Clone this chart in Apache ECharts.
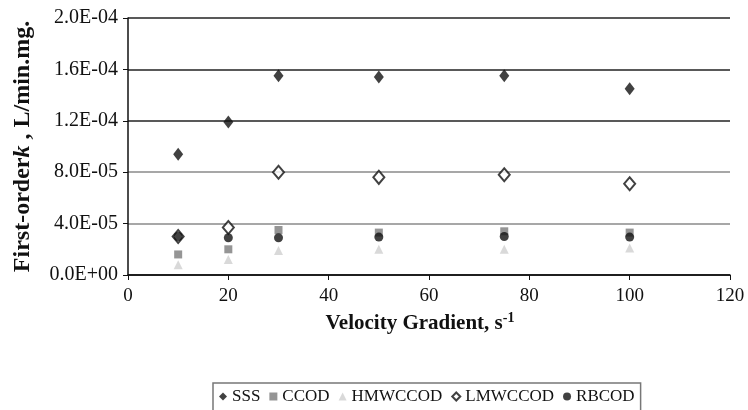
<!DOCTYPE html>
<html>
<head>
<meta charset="utf-8">
<script src="https://cdn.jsdelivr.net/npm/echarts@6/dist/echarts.min.js"></script>
<style>
  html, body { margin: 0; padding: 0; background: #fff; }
  #chart { width: 748px; height: 410px; }
</style>
</head>
<body>
<div id="chart"></div>
<script>
// Velocity gradient (s^-1) at which each rate constant was measured
const velocityGradient = [10, 20, 30, 50, 75, 100];

// First-order rate constants k (L/min.mg) per COD fraction
const sss     = [9.4e-5, 1.19e-4, 1.55e-4, 1.54e-4, 1.55e-4, 1.45e-4];
const ccod    = [1.6e-5, 2.0e-5, 3.5e-5, 3.3e-5, 3.4e-5, 3.3e-5];
const hmwccod = [0.8e-5, 1.2e-5, 1.9e-5, 2.0e-5, 2.0e-5, 2.1e-5];
const lmwccod = [3.0e-5, 3.7e-5, 8.0e-5, 7.6e-5, 7.8e-5, 7.1e-5];
const rbcod   = [3.0e-5, 2.9e-5, 2.9e-5, 2.95e-5, 3.0e-5, 2.95e-5];

const seriesNames = ['SSS', 'CCOD', 'HMWCCOD', 'LMWCCOD', 'RBCOD'];

// Axis tick labels
const yTickLabels = ['0.0E+00', '4.0E-05', '8.0E-05', '1.2E-04', '1.6E-04', '2.0E-04'];
const xTickLabels = ['0', '20', '40', '60', '80', '100', '120'];

const serif = '"Liberation Serif", "Times New Roman", serif';

function pairs(values) {
  return velocityGradient.map((x, i) => [x, values[i]]);
}

const chart = echarts.init(document.getElementById('chart'), null, { renderer: 'canvas' });

chart.setOption({
  animation: false,
  backgroundColor: '#ffffff',
  grid: { left: 128, right: 18, top: 18, bottom: 135, containLabel: false, outerBoundsMode: 'none' },
  xAxis: {
    type: 'value',
    min: 0,
    max: 120,
    interval: 20,
    name: '{b|Velocity Gradient, s}{sup|-1}',
    nameLocation: 'middle',
    nameGap: 34,
    nameTextStyle: {
      padding: [0, 18, 0, 0],
      rich: {
        b: { fontFamily: serif, fontWeight: 'bold', fontSize: 21, color: '#111' },
        sup: { fontFamily: serif, fontWeight: 'bold', fontSize: 14, color: '#111', padding: [0, 0, 11, 0] }
      }
    },
    axisLine: { lineStyle: { color: '#111', width: 1.5 } },
    axisTick: { show: true, inside: false, length: 5, lineStyle: { color: '#111' } },
    axisLabel: {
      margin: 12,
      fontFamily: serif,
      fontSize: 19,
      color: '#111',
      formatter: v => xTickLabels[Math.round(v / 20)]
    },
    splitLine: { show: false }
  },
  yAxis: {
    type: 'value',
    min: 0,
    max: 2e-4,
    interval: 4e-5,
    name: '{b|First-order}{i|k}{b| , L/min.mg.}',
    nameLocation: 'middle',
    nameRotate: 90,
    nameGap: 93,
    nameTextStyle: {
      rich: {
        b: { fontFamily: serif, fontWeight: 'bold', fontSize: 24, color: '#111' },
        i: { fontFamily: serif, fontWeight: 'bold', fontStyle: 'italic', fontSize: 24, color: '#111' }
      }
    },
    axisLine: { show: true, lineStyle: { color: '#111', width: 1.5 } },
    axisTick: { show: true, inside: false, length: 5, lineStyle: { color: '#111' } },
    axisLabel: {
      margin: 10,
      fontFamily: serif,
      fontSize: 20,
      color: '#111',
      formatter: v => yTickLabels[Math.round(v / 4e-5)]
    },
    splitLine: {
      show: true,
      lineStyle: { color: ['#111', '#8a8a8a', '#8a8a8a', '#222', '#222', '#222'], width: 1.5 }
    }
  },
  legend: {
    data: seriesNames,
    left: 213,
    top: 383,
    orient: 'horizontal',
    borderColor: '#777',
    borderWidth: 1.5,
    padding: [5, 6, 8, 6],
    itemGap: 9,
    itemWidth: 8,
    itemHeight: 8,
    textStyle: { fontFamily: serif, fontSize: 17, color: '#111' }
  },
  series: [
    {
      name: 'SSS', type: 'scatter', data: pairs(sss),
      symbol: 'diamond', symbolSize: [10, 13],
      itemStyle: { color: '#111' }
    },
    {
      name: 'CCOD', type: 'scatter', data: pairs(ccod),
      symbol: 'rect', symbolSize: 8,
      itemStyle: { color: '#7a7a7a' }
    },
    {
      name: 'HMWCCOD', type: 'scatter', data: pairs(hmwccod),
      symbol: 'triangle', symbolSize: 9,
      itemStyle: { color: '#cfcfcf' }
    },
    {
      name: 'LMWCCOD', type: 'scatter', data: pairs(lmwccod),
      symbol: 'diamond', symbolSize: [11, 13],
      itemStyle: { color: '#ffffff', borderColor: '#111', borderWidth: 2 }
    },
    {
      name: 'RBCOD', type: 'scatter', data: pairs(rbcod),
      symbol: 'circle', symbolSize: 9,
      itemStyle: { color: '#111' }
    }
  ]
});
</script>
</body>
</html>
